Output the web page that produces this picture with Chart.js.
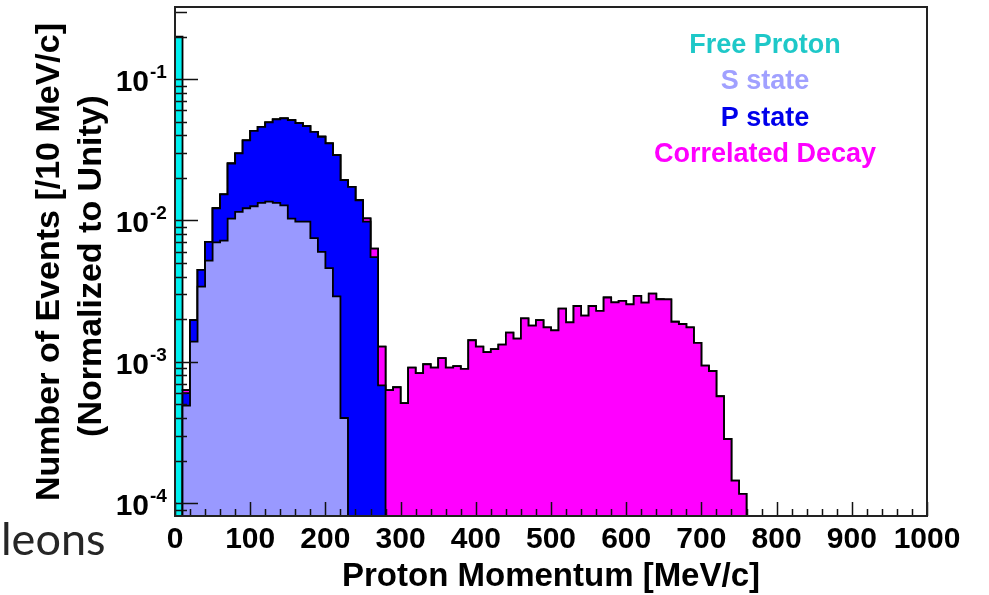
<!DOCTYPE html>
<html>
<head>
<meta charset="utf-8">
<script src="https://cdn.jsdelivr.net/npm/chart.js@4.4.0/dist/chart.umd.min.js"></script>
<style>
  html, body { margin: 0; padding: 0; background: #fff; }
  #wrap { position: relative; width: 989px; height: 595px; overflow: hidden; }
  #spectrum { position: absolute; left: 0; top: 0; }
  .slide-text { position: absolute; left: 1px; top: 516px; font: 45px Lato, sans-serif; line-height: 45px; color: #262626; }
</style>
</head>
<body>
<div id="wrap">
  <canvas id="spectrum" width="989" height="595"></canvas>
  <div class="slide-text">leons</div>
</div>
<script>
// Proton momentum spectrum, 10 MeV/c bins starting at 0, normalised to unity
const binWidth = 10;

const freeProton = [0.2];

const sState = [
  0, 4.9e-4, 1.39e-3, 3.4e-3, 5.2e-3, 7.0e-3, 7.2e-3, 1.03e-2, 1.15e-2, 1.22e-2,
  1.26e-2, 1.33e-2, 1.36e-2, 1.33e-2, 1.28e-2, 1.03e-2, 9.8e-3, 9.8e-3, 7.5e-3, 6.0e-3,
  4.6e-3, 2.9e-3, 4.0e-4,
];

const pState = [
  0, 1.1e-4, 5.8e-4, 1.07e-3, 1.86e-3, 5.2e-3, 8.1e-3, 1.5e-2, 1.83e-2, 2.47e-2,
  3.04e-2, 3.27e-2, 3.59e-2, 3.86e-2, 3.99e-2, 4.1e-2, 3.91e-2, 3.67e-2, 3.49e-2, 3.31e-2,
  3.05e-2, 2.61e-2, 1.89e-2, 1.73e-2, 1.39e-2, 9.8e-3, 5.5e-3, 6.8e-4,
];

const correlated = [
  0, 3e-5, 0, 0, 0, 0, 0, 0, 0, 0,
  0, 0, 0, 0, 0, 0, 0, 0, 0, 0,
  0, 0, 0, 0, 0, 5.5e-4, 8.1e-4, 6.0e-4, 6.3e-4, 6.6e-4,
  5.1e-4, 9.1e-4, 8.3e-4, 9.6e-4, 9.1e-4, 1.06e-3, 9.1e-4, 9.3e-4, 8.9e-4, 1.42e-3,
  1.28e-3, 1.17e-3, 1.23e-3, 1.32e-3, 1.61e-3, 1.46e-3, 2.03e-3, 1.8e-3, 1.97e-3, 1.75e-3,
  1.67e-3, 2.38e-3, 1.9e-3, 2.48e-3, 2.12e-3, 2.48e-3, 2.29e-3, 2.85e-3, 2.63e-3, 2.7e-3,
  2.55e-3, 2.93e-3, 2.62e-3, 3.04e-3, 2.77e-3, 2.76e-3, 1.92e-3, 1.85e-3, 1.75e-3, 1.36e-3,
  9.4e-4, 8.6e-4, 5.7e-4, 2.84e-4, 1.44e-4, 1.16e-4,
];

const xTickValues = [0, 100, 200, 300, 400, 500, 600, 700, 800, 900, 1000];
const xTickLabels = ['0', '100', '200', '300', '400', '500', '600', '700', '800', '900', '1000'];
const yTickValues = [1e-4, 1e-3, 1e-2, 1e-1];
const yTickExponents = ['-4', '-3', '-2', '-1'];

const FONT = '"Liberation Sans", Arial, sans-serif';

// the log axis drops zeros, so empty bins sit far below the visible range instead
const EMPTY_BIN = 1e-9;

// lower bin edges plus the closing upper edge of the last filled bin
const nBins = correlated.length;
const edges = Array.from({ length: nBins + 1 }, (_, i) => i * binWidth);

function histPoints(values) {
  return edges.map((x, i) => {
    const v = i < values.length ? values[i] : 0;
    return { x, y: v > 0 ? v : EMPTY_BIN };
  });
}

function histDataset(label, values, fillColor, textColor, fill) {
  return {
    label,
    data: histPoints(values),
    stepped: 'before',
    fill,
    backgroundColor: fillColor,
    borderColor: '#000',
    borderWidth: 1.8,
    pointRadius: 0,
    textColor,
  };
}

// frame, inward ROOT-style ticks, axis labels and the text legend
const rootAxes = {
  id: 'rootAxes',
  afterDraw(chart) {
    const { ctx, chartArea: a, scales: { x, y } } = chart;
    ctx.save();

    ctx.strokeStyle = '#111';
    ctx.lineWidth = 1.5;
    ctx.beginPath();
    for (let v = 0; v <= 1000; v += 20) {
      const px = Math.round(x.getPixelForValue(v)) + 0.5;
      const len = v % 100 === 0 ? 14 : 7;
      ctx.moveTo(px, a.bottom);
      ctx.lineTo(px, a.bottom - len);
    }
    for (let e = -5; e <= 0; e++) {
      for (let m = 1; m <= 9; m++) {
        const v = m * Math.pow(10, e);
        if (v < y.min || v > y.max) continue;
        const py = Math.round(y.getPixelForValue(v)) + 0.5;
        ctx.moveTo(a.left, py);
        ctx.lineTo(a.left + (m === 1 ? 23 : 12), py);
      }
    }
    ctx.stroke();

    ctx.strokeStyle = '#222';
    ctx.lineWidth = 2;
    ctx.strokeRect(a.left, a.top, a.right - a.left, a.bottom - a.top);

    ctx.fillStyle = '#000';
    ctx.textBaseline = 'alphabetic';

    ctx.font = `bold 30px ${FONT}`;
    ctx.textAlign = 'center';
    xTickValues.forEach((v, i) => {
      ctx.fillText(xTickLabels[i], x.getPixelForValue(v), 548);
    });

    yTickValues.forEach((v, i) => {
      const py = y.getPixelForValue(v);
      ctx.font = `bold 30px ${FONT}`;
      ctx.textAlign = 'right';
      ctx.fillText('10', 149, py + 12);
      ctx.font = `bold 19px ${FONT}`;
      ctx.textAlign = 'left';
      ctx.fillText(yTickExponents[i], 150, py - 1);
    });

    ctx.font = `bold 33px ${FONT}`;
    ctx.textAlign = 'center';
    ctx.fillText('Proton Momentum [MeV/c]', 551, 586);

    ctx.save();
    ctx.font = `bold 34px ${FONT}`;
    ctx.translate(59, 262);
    ctx.rotate(-Math.PI / 2);
    ctx.fillText('Number of Events [/10 MeV/c]', 0, 0);
    ctx.restore();
    ctx.save();
    ctx.font = `bold 34px ${FONT}`;
    ctx.translate(101, 266);
    ctx.rotate(-Math.PI / 2);
    ctx.fillText('(Normalized to Unity)', 0, 0);
    ctx.restore();

    // legend: free proton first, then the stack from the bottom up
    const ds = chart.data.datasets;
    const entries = [ds[3], ds[0], ds[1], ds[2]];
    ctx.font = `bold 27px ${FONT}`;
    ctx.textAlign = 'center';
    entries.forEach((d, i) => {
      ctx.fillStyle = d.textColor;
      ctx.fillText(d.label, 765, 53 + i * 36.3);
    });

    ctx.restore();
  },
};

new Chart(document.getElementById('spectrum'), {
  type: 'line',
  data: {
    datasets: [
      histDataset('S state', sState, 'rgb(153, 153, 255)', 'rgb(160, 160, 255)', 'start'),
      histDataset('P state', pState, 'rgb(0, 0, 255)', 'rgb(0, 0, 235)', '-1'),
      histDataset('Correlated Decay', correlated, 'rgb(255, 0, 255)', 'rgb(255, 0, 255)', '-1'),
      histDataset('Free Proton', freeProton, 'rgb(0, 240, 240)', 'rgb(30, 200, 200)', '-1'),
    ],
  },
  options: {
    responsive: false,
    animation: false,
    layout: { padding: { left: 175, top: 7, right: 62, bottom: 79 } },
    plugins: {
      legend: { display: false },
      tooltip: { enabled: false },
    },
    scales: {
      x: { type: 'linear', min: 0, max: 1000, display: false },
      y: { type: 'logarithmic', min: 8.1e-5, max: 0.324, stacked: true, display: false },
    },
  },
  plugins: [rootAxes],
});
</script>
</body>
</html>
